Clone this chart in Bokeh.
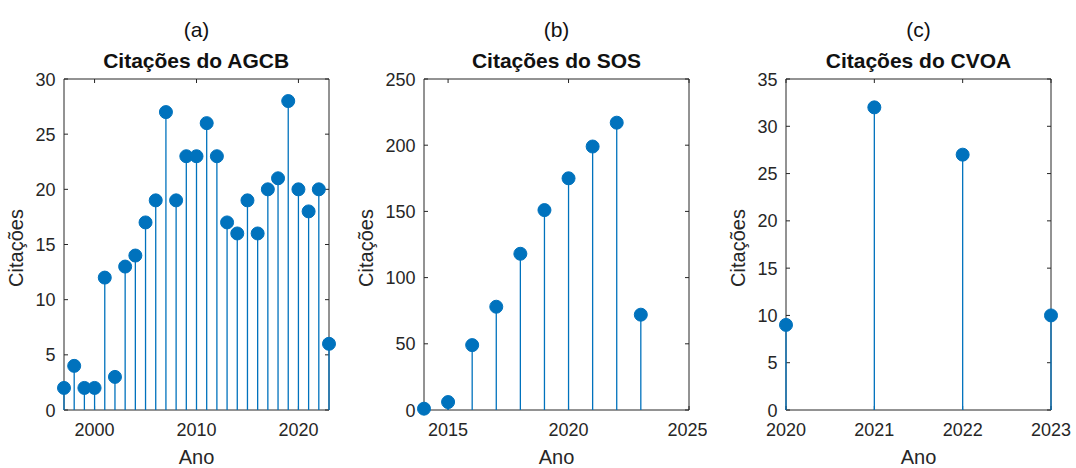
from bokeh.plotting import figure
from bokeh.layouts import row
from bokeh.models import LinearAxis, Title, FixedTicker, Range1d
from bokeh.embed import file_html
from bokeh.resources import INLINE

# ---- data ----
anos_agcb = [1997, 1998, 1999, 2000, 2001, 2002, 2003, 2004, 2005, 2006, 2007, 2008, 2009, 2010,
             2011, 2012, 2013, 2014, 2015, 2016, 2017, 2018, 2019, 2020, 2021, 2022, 2023]
cit_agcb = [2, 4, 2, 2, 12, 3, 13, 14, 17, 19, 27, 19, 23, 23,
            26, 23, 17, 16, 19, 16, 20, 21, 28, 20, 18, 20, 6]

anos_sos = [2014, 2015, 2016, 2017, 2018, 2019, 2020, 2021, 2022, 2023]
cit_sos = [1, 6, 49, 78, 118, 151, 175, 199, 217, 72]

anos_cvoa = [2020, 2021, 2022, 2023]
cit_cvoa = [9, 32, 27, 10]

panels = [
    dict(letter="(a)", title="Citações do AGCB", x=anos_agcb, y=cit_agcb,
         xr=(1997, 2023), yr=(0, 30), xt=[2000, 2010, 2020], yt=[0, 5, 10, 15, 20, 25, 30],
         box_w=265, bl=55, br=8),
    dict(letter="(b)", title="Citações do SOS", x=anos_sos, y=cit_sos,
         xr=(2014, 2025), yr=(0, 250), xt=[2015, 2020, 2025], yt=[0, 50, 100, 150, 200, 250],
         box_w=265, bl=70, br=10),
    dict(letter="(c)", title="Citações do CVOA", x=anos_cvoa, y=cit_cvoa,
         xr=(2020, 2023), yr=(0, 35), xt=[2020, 2021, 2022, 2023], yt=[0, 5, 10, 15, 20, 25, 30, 35],
         box_w=265, bl=70, br=16),
]

FONT = "Liberation Sans"
AX = "#262626"
BLUE = "#0072BD"
BOX_H = 331
PAD = 8.5       # room so edge markers are not cut
PAD_TOP = 1.5
TOP = 77
BOTTOM = 50
TICK = 4        # tick length, px

figs = []
for d in panels:
    x0, x1 = d["xr"]
    y0, y1 = d["yr"]
    dppx = (x1 - x0) / d["box_w"]
    dppy = (y1 - y0) / BOX_H
    p = figure(frame_width=int(d["box_w"] + 2 * PAD), frame_height=int(BOX_H + PAD + PAD_TOP),
               output_backend="svg", toolbar_location=None,
               x_range=Range1d(x0 - PAD * dppx, x1 + PAD * dppx),
               y_range=Range1d(y0 - PAD * dppy, y1 + PAD_TOP * dppy),
               min_border_left=d["bl"], min_border_right=d["br"],
               min_border_top=TOP, min_border_bottom=BOTTOM,
               x_axis_label="Ano", y_axis_label="Citações")
    p.grid.visible = False
    p.outline_line_color = None
    p.background_fill_color = "white"
    p.border_fill_color = "white"

    # axes box
    p.quad(left=[x0], right=[x1], bottom=[y0], top=[y1], fill_color=None,
           line_color=AX, line_width=1)

    # inward ticks on all four sides (from the tick lists)
    xt = d["xt"]
    yt = d["yt"]
    tx = TICK * dppx
    ty = TICK * dppy
    p.segment(x0=xt, y0=[y0] * len(xt), x1=xt, y1=[y0 + ty] * len(xt), line_color=AX, line_width=1)
    p.segment(x0=xt, y0=[y1] * len(xt), x1=xt, y1=[y1 - ty] * len(xt), line_color=AX, line_width=1)
    p.segment(x0=[x0] * len(yt), y0=yt, x1=[x0 + tx] * len(yt), y1=yt, line_color=AX, line_width=1)
    p.segment(x0=[x1] * len(yt), y0=yt, x1=[x1 - tx] * len(yt), y1=yt, line_color=AX, line_width=1)

    # stems + markers
    p.segment(x0=d["x"], y0=[y0] * len(d["x"]), x1=d["x"], y1=d["y"],
              line_color=BLUE, line_width=1.3, level="overlay")
    p.scatter(x=d["x"], y=d["y"], size=13, fill_color=BLUE, line_color=BLUE, level="overlay")

    xa = p.xaxis[0]
    ya = p.yaxis[0]
    xa.ticker = FixedTicker(ticks=xt)
    ya.ticker = FixedTicker(ticks=yt)
    for ax in (xa, ya):
        ax.axis_line_color = None
        ax.major_tick_line_color = None
        ax.minor_tick_line_color = None
        ax.major_tick_in = 0
        ax.major_tick_out = 0
        ax.minor_tick_in = 0
        ax.minor_tick_out = 0
        ax.major_label_text_font = FONT
        ax.major_label_text_font_size = "18px"
        ax.major_label_text_color = AX
        ax.axis_label_text_font = FONT
        ax.axis_label_text_font_size = "20px"
        ax.axis_label_text_font_style = "normal"
        ax.axis_label_text_color = AX
    xa.major_label_standoff = 4
    xa.axis_label_standoff = 7
    ya.major_label_standoff = 0
    ya.axis_label_standoff = 5

    # small spacer between frame and titles
    spacer = LinearAxis(ticker=FixedTicker(ticks=[]), axis_line_color=None,
                        major_tick_line_color=None, minor_tick_line_color=None,
                        major_tick_in=0, major_tick_out=0, minor_tick_in=0, minor_tick_out=0,
                        major_label_standoff=3)
    p.add_layout(spacer, "above")

    # titles: letter outermost, bold title next to the axes
    p.title.text = d["letter"]
    p.title.text_font = FONT
    p.title.text_font_style = "normal"
    p.title.text_font_size = "21px"
    p.title.text_color = "#111111"
    p.title.align = "center"
    p.title.text_baseline = "alphabetic"
    p.title.standoff = 2
    p.add_layout(Title(text=d["title"], align="center", text_font=FONT, text_font_style="bold",
                       text_font_size="21px", text_color="#111111", standoff=11,
                       text_baseline="alphabetic"), "above")
    figs.append(p)

layout = row(*figs)
open("out.html", "w").write(file_html(layout, INLINE))
